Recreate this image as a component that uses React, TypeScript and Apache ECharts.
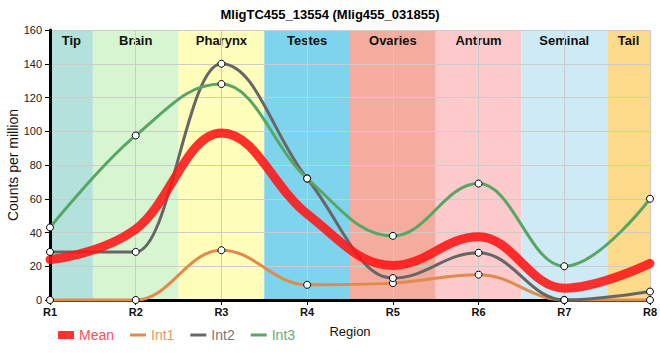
import React, { useEffect, useRef } from "react";
import * as echarts from "echarts";

const regions = ["R1", "R2", "R3", "R4", "R5", "R6", "R7", "R8"];
const bandNames = ["Tip", "Brain", "Pharynx", "Testes", "Ovaries", "Antrum", "Seminal", "Tail"];
const bandColors = ["#b3e2dd", "#d6f5d0", "#ffffbb", "#7ed4ec", "#f4ac9e", "#fdcbcc", "#ceeaf5", "#fedb8b"];

const meanValues = [24, 42, 99, 51, 20.5, 37.5, 7, 21.7];
const int1Values = [0, 0, 29.5, 9, 10, 15, 0, 0];
const int2Values = [28.5, 28.5, 140, 72, 13, 28, 0, 5];
const int3Values = [43, 97.5, 128, 72, 38, 69, 20, 60];

const seriesNames = ["Mean", "Int1", "Int2", "Int3"];
const seriesColors = ["rgba(255,20,20,0.88)", "#e08b4b", "#666666", "#58a565"];
const legendTextColors = ["#ff4f5a", "#e39a62", "#777777", "#68ad74"];

const FONT = "'Liberation Sans', Arial, sans-serif";

// spline through the points: control points at 0.4 of each neighbouring gap,
// tangents flattened at local extremes so that no false extremes appear
function splinePath(pts: number[][]): string {
  const n = pts.length;
  const smoothing = 1.5;
  const denom = smoothing + 1;
  const lc: number[][] = [];
  const rc: number[][] = [];
  for (let i = 0; i < n; i++) {
    const [x, y] = pts[i];
    if (i === 0 || i === n - 1) {
      lc[i] = [x, y];
      rc[i] = [x, y];
      continue;
    }
    const [lx, ly] = pts[i - 1];
    const [nx, ny] = pts[i + 1];
    const leftX = (smoothing * x + lx) / denom;
    let leftY = (smoothing * y + ly) / denom;
    const rightX = (smoothing * x + nx) / denom;
    let rightY = (smoothing * y + ny) / denom;
    if (rightX !== leftX) {
      const correction = ((rightY - leftY) * (rightX - x)) / (rightX - leftX) + y - rightY;
      leftY += correction;
      rightY += correction;
    }
    if (leftY > ly && leftY > y) {
      leftY = Math.max(ly, y);
      rightY = 2 * y - leftY;
    } else if (leftY < ly && leftY < y) {
      leftY = Math.min(ly, y);
      rightY = 2 * y - leftY;
    }
    if (rightY > ny && rightY > y) {
      rightY = Math.max(ny, y);
      leftY = 2 * y - rightY;
    } else if (rightY < ny && rightY < y) {
      rightY = Math.min(ny, y);
      leftY = 2 * y - rightY;
    }
    lc[i] = [leftX, leftY];
    rc[i] = [rightX, rightY];
  }
  let d = `M${pts[0][0]},${pts[0][1]}`;
  for (let i = 1; i < n; i++) {
    d += `C${rc[i - 1][0]},${rc[i - 1][1]},${lc[i][0]},${lc[i][1]},${pts[i][0]},${pts[i][1]}`;
  }
  return d;
}

function curveSeries(name: string, values: number[], color: string, width: number, z: number) {
  return {
    type: "custom",
    name,
    z,
    data: [[0, values[0]]],
    itemStyle: { color },
    renderItem: (_params: any, api: any) => {
      const pts = values.map((v, i) => api.coord([i, v]));
      return {
        type: "path",
        silent: true,
        shape: { pathData: splinePath(pts) },
        style: { stroke: color, lineWidth: width, fill: "none", lineCap: "round", lineJoin: "round" },
      };
    },
  };
}

function markerSeries(name: string, values: number[]) {
  return {
    type: "scatter",
    name,
    z: 10,
    symbol: "circle",
    symbolSize: 7,
    itemStyle: { color: "#ffffff", borderColor: "#000000", borderWidth: 1, opacity: 1 },
    data: values.map((v, i) => [i, v]),
  };
}

export default function App() {
  const ref = useRef<HTMLDivElement>(null);
  useEffect(() => {
    const chart = echarts.init(ref.current!, null, { renderer: "svg" });
    const lastIdx = regions.length - 1;
    const option: any = {
      animation: false,
      backgroundColor: "#ffffff",
      textStyle: { fontFamily: FONT },
      title: {
        text: "MligTC455_13554 (Mlig455_031855)",
        left: "center",
        top: 3,
        textStyle: { fontSize: 13, fontWeight: "bold", color: "#000", fontFamily: FONT },
      },
      legend: {
        left: 53,
        top: 323,
        itemWidth: 16,
        itemHeight: 8,
        itemGap: 16,
        symbolKeepAspect: true,
        textStyle: { fontSize: 14, fontFamily: FONT },
        data: seriesNames.map((name, i) => ({
          name,
          icon: i === 0 ? "rect" : "path://M0,0H16V3H0Z",
          itemStyle: { color: seriesColors[i], borderWidth: 0 },
          textStyle: { color: legendTextColors[i], fontSize: 14 },
        })),
      },
      grid: { left: 50, right: 10, top: 30, bottom: 60, containLabel: false, outerBoundsMode: "none" },
      xAxis: [
        {
          type: "value",
          min: 0,
          max: lastIdx,
          interval: 1,
          position: "bottom",
          z: 2,
          axisLine: { show: true, lineStyle: { color: "#000", width: 3 } },
          axisTick: { show: true, length: 5, lineStyle: { color: "#000", width: 1 } },
          axisLabel: {
            formatter: (v: number) => regions[Math.round(v)] ?? "",
            color: "#111",
            fontSize: 11,
            fontWeight: "bold",
            margin: 6,
            fontFamily: FONT,
          },
          splitLine: { show: true, lineStyle: { color: "#cccccc", width: 1 } },
          name: "Region",
          nameLocation: "middle",
          nameGap: 25,
          nameMoveOverlap: false,
          nameTextStyle: { fontSize: 13, color: "#111", fontFamily: FONT },
        },
        {
          type: "value",
          min: 0,
          max: lastIdx,
          position: "top",
          z: 2,
          axisLine: { show: true, lineStyle: { color: "#000", width: 1 } },
          axisTick: { show: false },
          axisLabel: { show: false },
          splitLine: { show: false },
        },
      ],
      yAxis: [
        {
          type: "value",
          min: 0,
          max: 160,
          interval: 20,
          position: "left",
          z: 2,
          axisLine: { show: true, lineStyle: { color: "#000", width: 3 } },
          axisTick: { show: true, length: 5, lineStyle: { color: "#000", width: 1 } },
          axisLabel: { color: "#222", fontSize: 11, margin: 8, fontFamily: FONT },
          splitLine: { show: true, lineStyle: { color: "#cccccc", width: 1 } },
          name: "Counts per million",
          nameLocation: "middle",
          nameGap: 30,
          nameMoveOverlap: false,
          nameTextStyle: { fontSize: 14, color: "#111", fontFamily: FONT },
        },
        {
          type: "value",
          min: 0,
          max: 160,
          position: "right",
          z: 2,
          axisLine: { show: true, lineStyle: { color: "#000", width: 1 } },
          axisTick: { show: false },
          axisLabel: { show: false },
          splitLine: { show: false },
        },
      ],
      series: [
        {
          type: "line",
          name: "bands",
          data: [],
          z: 0,
          markArea: {
            silent: true,
            z: 0,
            label: {
              show: true,
              position: "insideTop",
              distance: 4,
              fontSize: 13,
              fontWeight: "bold",
              color: "#111",
              fontFamily: FONT,
            },
            data: bandNames.map((name, i) => [
              { name, xAxis: Math.max(0, i - 0.5), itemStyle: { color: bandColors[i], opacity: 1 } },
              { xAxis: Math.min(lastIdx, i + 0.5) },
            ]),
          },
        },
        curveSeries("Mean", meanValues, seriesColors[0], 9, 7),
        curveSeries("Int1", int1Values, seriesColors[1], 3, 4),
        curveSeries("Int2", int2Values, seriesColors[2], 3, 5),
        curveSeries("Int3", int3Values, seriesColors[3], 3, 6),
        markerSeries("Int1", int1Values),
        markerSeries("Int2", int2Values),
        markerSeries("Int3", int3Values),
      ],
    };
    chart.setOption(option);
    return () => chart.dispose();
  }, []);
  return (
    <div
      ref={ref}
      style={{ position: "fixed", left: 0, top: 0, width: 660, height: 360, background: "#fff" }}
    />
  );
}
